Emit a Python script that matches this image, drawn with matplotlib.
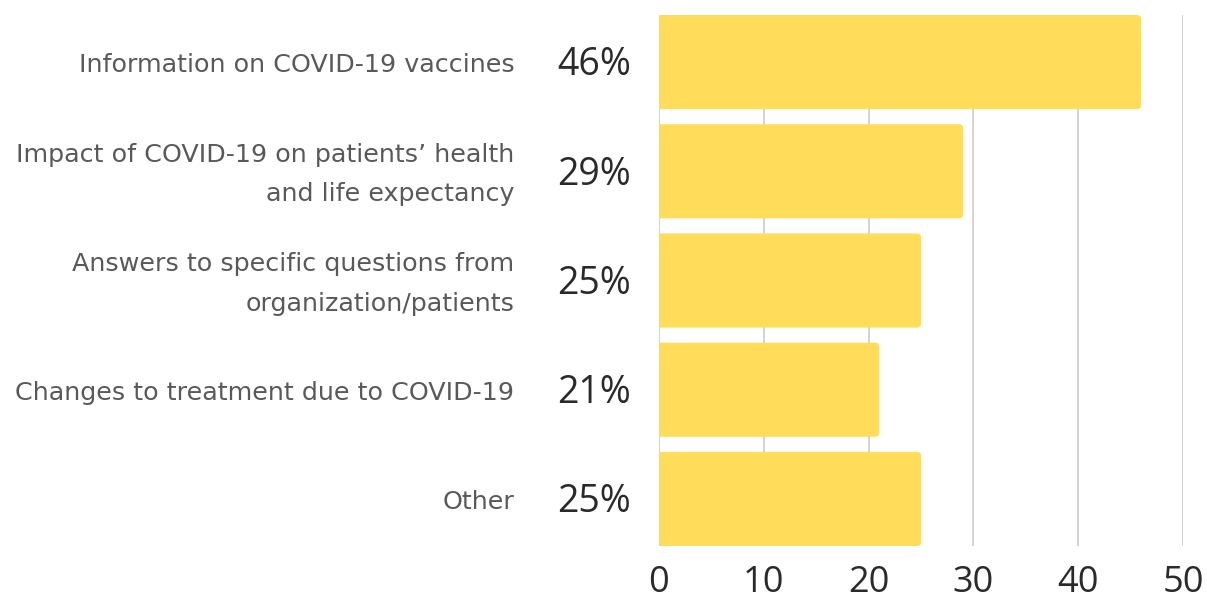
import matplotlib.pyplot as plt
from matplotlib.patches import FancyBboxPatch

categories = [
    "Information on COVID-19 vaccines",
    "Impact of COVID-19 on patients\u2019 health\nand life expectancy",
    "Answers to specific questions from\norganization/patients",
    "Changes to treatment due to COVID-19",
    "Other",
]
values = [46, 29, 25, 21, 25]
xticks = [0, 10, 20, 30, 40, 50]

bar_color = "#FFDC5A"
label_color = "#595959"

fig = plt.figure(figsize=(12.07, 6.05), dpi=100)
ax = fig.add_axes([659 / 1207, 1 - 546 / 605, (1183 - 659) / 1207, (546 - 15) / 605])

h = 0.862
ypos = list(range(len(values)))
bars = ax.barh(ypos, values, height=h, color="none")
# rounded right-hand ends; left end starts off-axes so it gets clipped square
for b in bars:
    x0, y0 = b.get_x(), b.get_y()
    w, hh = b.get_width(), b.get_height()
    r = FancyBboxPatch((x0 - 1, y0), w + 1, hh,
                       boxstyle="round,pad=0,rounding_size=0.38",
                       mutation_aspect=0.097,
                       facecolor=bar_color, edgecolor="none", zorder=2)
    ax.add_patch(r)

ax.set_xlim(0, 50)
ax.set_ylim(len(values) - 1 + h / 2, -h / 2)
ax.set_xticks(xticks)
ax.set_xticklabels([str(t) for t in xticks], fontsize=26, color="#2a2a2a",
                   family="Open Sans")
ax.tick_params(axis="x", length=0, pad=14)
ax.set_yticks([])
ax.grid(axis="x", color="#cccccc", lw=1.2, zorder=0)
ax.set_axisbelow(True)
for s in ax.spines.values():
    s.set_visible(False)

for y, v, c in zip(ypos, values, categories):
    ax.text(-2.7, y + 0.03, f"{v}%", ha="right", va="center", fontsize=27,
            color="#2a2a2a", family="Open Sans")
    ax.text(-13.8, y + 0.03, c, ha="right", va="center", fontsize=18.3,
            color=label_color, family="DejaVu Sans", linespacing=1.82)

fig.savefig("out.png", dpi=100)
